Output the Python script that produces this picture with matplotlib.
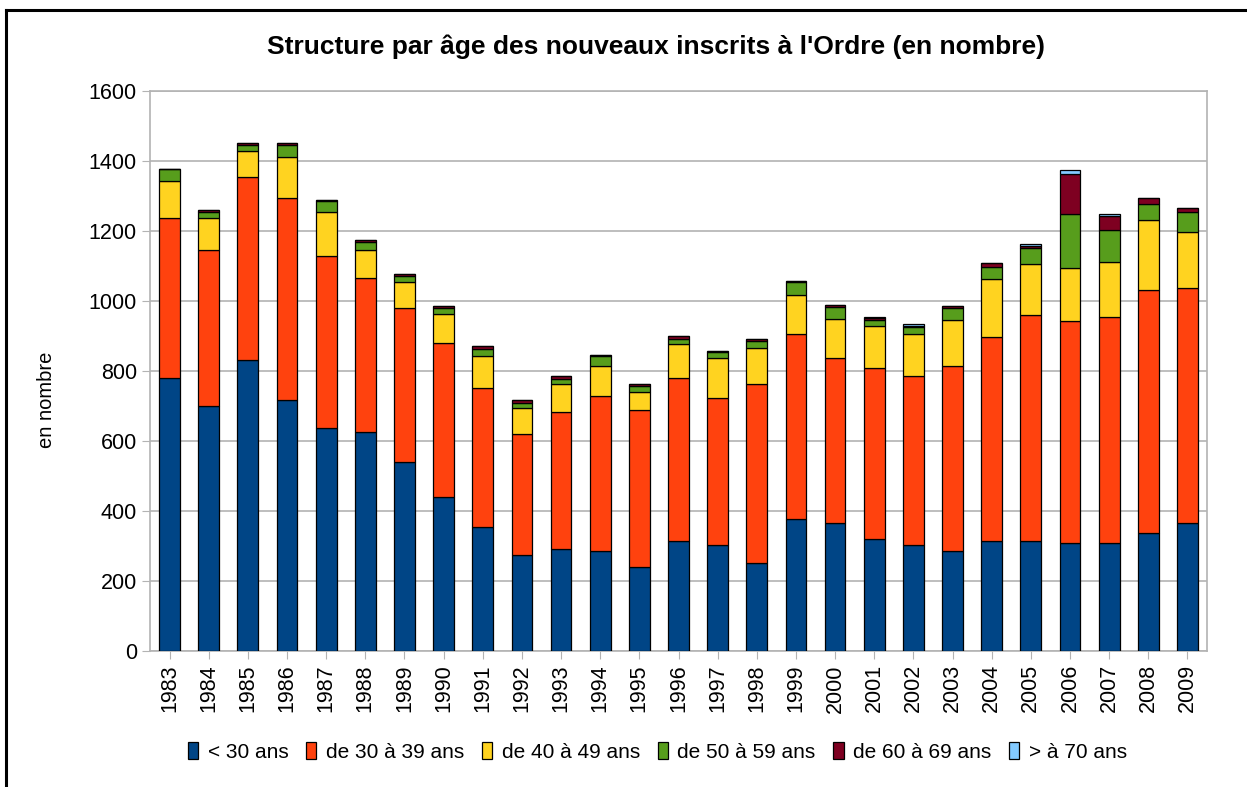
import matplotlib.pyplot as plt
import numpy as np
from matplotlib.lines import Line2D

plt.rcParams['font.family'] = ['Liberation Sans', 'DejaVu Sans']

years = [str(y) for y in range(1983, 2010)]
age_groups = ['< 30 ans', 'de 30 à 39 ans', 'de 40 à 49 ans',
              'de 50 à 59 ans', 'de 60 à 69 ans', '> à 70 ans']
colors = ['#004586', '#ff420e', '#ffd320', '#579d1c', '#7e0021', '#83caff']

under_30 = [780, 701, 831, 718, 638, 627, 541, 439, 353, 273, 291, 286, 240, 314,
            303, 251, 377, 366, 320, 303, 286, 314, 314, 309, 309, 337, 366]
age_30_39 = [456, 444, 524, 575, 490, 439, 438, 441, 398, 347, 392, 443, 449, 466,
             420, 512, 529, 471, 489, 483, 528, 583, 646, 634, 645, 693, 671]
age_40_49 = [108, 91, 74, 119, 125, 79, 74, 83, 91, 74, 79, 85, 51, 96,
             113, 103, 111, 112, 120, 119, 132, 165, 145, 150, 156, 200, 159]
age_50_59 = [33, 18, 17, 34, 33, 23, 18, 16, 22, 15, 16, 29, 17, 16,
             17, 21, 36, 35, 16, 22, 33, 36, 45, 155, 92, 46, 57]
age_60_69 = [0, 5, 4, 5, 2, 5, 5, 6, 8, 7, 8, 2, 6, 7,
             3, 3, 5, 5, 5, 2, 8, 10, 6, 114, 40, 17, 13]
over_70 = [0, 0, 0, 0, 0, 0, 0, 0, 0, 0, 0, 0, 0, 0,
           0, 0, 0, 0, 5, 5, 0, 0, 6, 11, 6, 0, 0]

series = [under_30, age_30_39, age_40_49, age_50_59, age_60_69, over_70]

fig = plt.figure(figsize=(12.47, 7.87), dpi=100)
ax = fig.add_axes([150 / 1247, 1 - 651 / 787, 1057 / 1247, 560 / 787])

x = np.arange(len(years))
bottom = np.zeros(len(years))
for vals, label, col in zip(series, age_groups, colors):
    vals = np.array(vals, dtype=float)
    ax.bar(x, vals, width=0.53, bottom=bottom, color=col, edgecolor='black',
           linewidth=0.9, label=label, zorder=3)
    bottom += vals

ax.set_xlim(-0.5, len(years) - 0.5)
ax.set_ylim(0, 1600)
ax.set_yticks(range(0, 1601, 200))
ax.set_xticks(x)
ax.set_xticklabels(years, rotation=90)
ax.tick_params(axis='both', labelsize=15.5, color='#b3b3b3', length=6, direction='out')
ax.grid(axis='y', color='#b3b3b3', linewidth=1.2, zorder=0)
for s in ax.spines.values():
    s.set_color('#b3b3b3')
    s.set_linewidth(1.2)

fig.text(46 / 1247, 1 - 400 / 787, 'en nombre', rotation=90, ha='center', va='center',
         fontsize=14.5)

fig.text(0.526, 1 - 47 / 787, "Structure par âge des nouveaux inscrits à l'Ordre (en nombre)",
         ha='center', va='center', fontsize=19, fontweight='bold')

ax.legend(loc='center', bbox_to_anchor=(0.48, (651 - 752) / 560), ncol=6, frameon=False,
          fontsize=15, handlelength=0.5, handleheight=0.9, handletextpad=0.45,
          columnspacing=0.85)

# figure frame (top and left only visible)
fig.add_artist(Line2D([6 / 1247, 1], [1 - 10 / 787, 1 - 10 / 787], color='black', lw=2.2,
                      transform=fig.transFigure))
fig.add_artist(Line2D([6 / 1247, 6 / 1247], [0, 1 - 10 / 787], color='black', lw=2.2,
                      transform=fig.transFigure))

plt.savefig('out.png', dpi=100)
